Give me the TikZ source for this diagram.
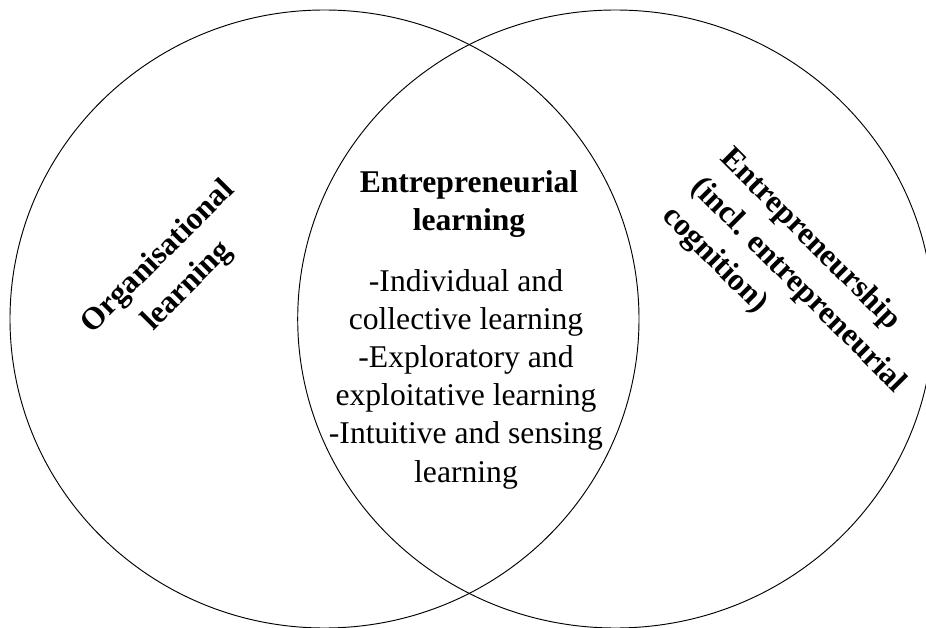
\documentclass[tikz,border=0pt]{standalone}
\usepackage{fontspec}
\setmainfont{Liberation Serif}
\tikzset{
	settext/.style={font=\fontsize{27pt}{32.6pt}\selectfont,align=center,inner sep=0pt},
	sethead/.style={font=\bfseries\fontsize{27pt}{33pt}\selectfont,align=center,inner sep=0pt},
	setside/.style={font=\bfseries\fontsize{27pt}{35pt}\selectfont,inner sep=0pt}
}
\begin{document}
\begin{tikzpicture}[x=0.03cm,y=-0.03cm,line width=0.8pt]
		\useasboundingbox (0,0) rectangle (926,628);
		\draw (324.5,319) ellipse [x radius=314.5,y radius=309];
		\draw (615.5,319) ellipse [x radius=317.8,y radius=309];
		% left, middle and right sets
		\node[setside,align=center,rotate=45] (orglearn) at (173,272) {Organisational\\learning};
		\node[sethead] (entlearn) at (469,204) {Entrepreneurial\\learning};
		\node[settext] (entitems) at (466,379) {-Individual and\\collective learning\\-Exploratory and\\exploitative learning\\-Intuitive and sensing\\learning};
		\node[setside,align=left,rotate=-45] (entship) at (798,286) {Entrepreneurship\\(incl. entrepreneurial\\cognition)};
		
		
		\end{tikzpicture}
\end{document}
